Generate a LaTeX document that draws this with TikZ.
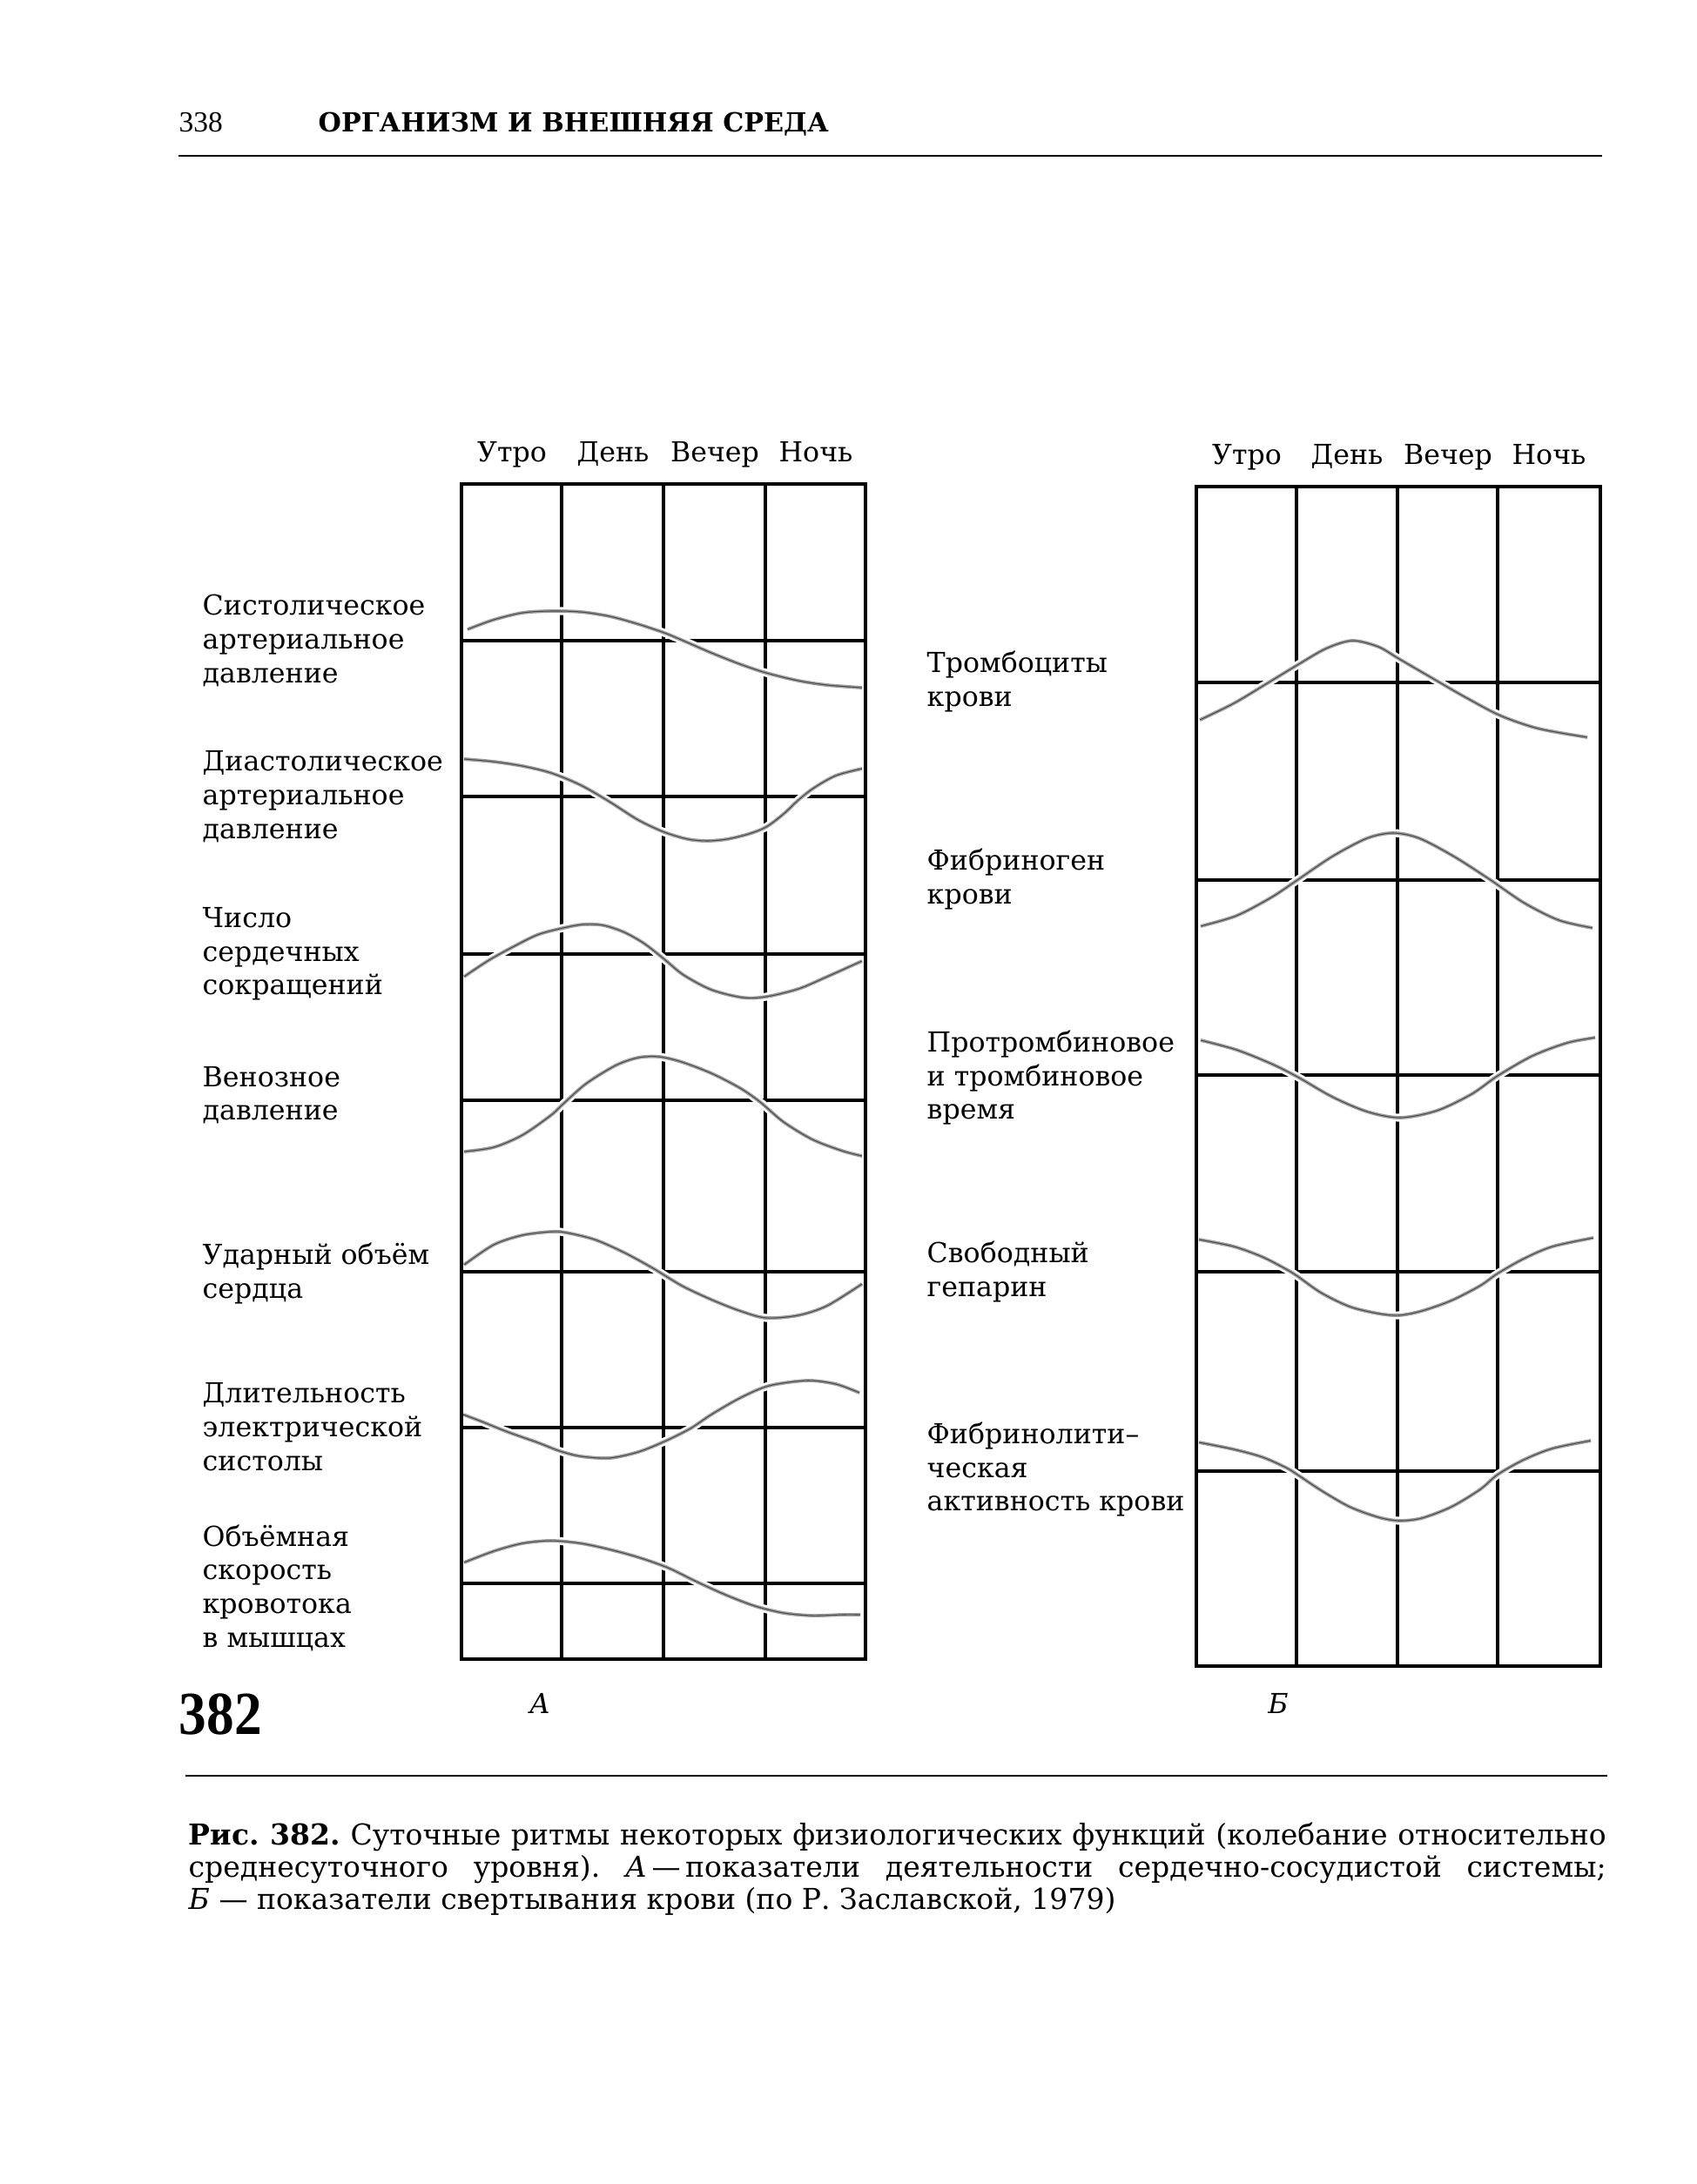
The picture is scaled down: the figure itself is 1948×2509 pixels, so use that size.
\documentclass[tikz,border=0pt]{standalone}
\usepackage{fontspec}
\setmainfont{DejaVu Serif}
\newfontfamily\timesf{Liberation Serif}
\frenchspacing
\newcommand\wavecurve[1]{%
  \draw[halo] plot[smooth] coordinates {#1};
  \draw[crv] plot[smooth] coordinates {#1};
  \draw[crvcore] plot[smooth] coordinates {#1};
}
\begin{document}
\begin{tikzpicture}[x=0.01cm,y=-0.01cm,
  frame/.style={line width=1.3pt},
  gridln/.style={line width=1.05pt},
  halo/.style={white,line width=2.6pt},
  crv/.style={black!38,line width=1.1pt},
  crvcore/.style={black!70,line width=0.3pt},
  lbl/.style={anchor=west,align=left,inner sep=0pt,font=\fontsize{9}{11}\selectfont},
  hd/.style={anchor=base,inner sep=0pt,font=\fontsize{9}{11}\selectfont},
  rulel/.style={line width=0.8pt},
  capf/.style={anchor=base west,inner sep=0pt,font=\fontsize{9.4}{11}\selectfont}
]
\useasboundingbox (0,0) rectangle (1948,2509);
\fill[white] (0,0) rectangle (1948,2509);

% header
\node[anchor=base west,inner sep=0pt,font=\timesf\fontsize{9.5}{11}\selectfont] (pg) at (205,152) {338};
\node[anchor=base west,inner sep=0pt,font=\bfseries\fontsize{8.6}{11}\selectfont] (ttl) at (365,152) {ОРГАНИЗМ И ВНЕШНЯЯ СРЕДА};
\draw[rulel] (205,179) -- (1840,179);

% ---------- panel A ----------
\foreach \x in {645,762,879} \draw[gridln] (\x,556) -- (\x,1906);
\foreach \y in {736,915,1096,1264,1461,1640,1819} \draw[gridln] (530,\y) -- (994,\y);

\wavecurve{(537,723) (567,712) (600,704) (633,702) (667,703) (700,708) (733,717) (763,727) (787,737) (817,750) (850,763) (880,773) (917,782) (950,787) (990,790)}
\wavecurve{(533,872) (567,875) (600,880) (633,888) (667,902) (700,921) (733,942) (763,956) (790,964) (812,966) (835,964) (860,958) (880,950) (900,935) (917,919) (935,905) (960,891) (990,883)}
\wavecurve{(533,1122) (560,1104) (585,1090) (617,1074) (647,1066) (670,1062) (693,1063) (717,1071) (740,1084) (763,1102) (785,1120) (817,1137) (853,1146) (880,1145) (917,1136) (950,1122) (990,1104)}
\wavecurve{(533,1323) (567,1318) (600,1304) (633,1281) (647,1268) (673,1245) (707,1224) (733,1215) (757,1214) (783,1220) (817,1233) (850,1250) (873,1266) (900,1289) (933,1309) (967,1322) (990,1328)}
\wavecurve{(533,1453) (567,1430) (600,1419) (633,1415) (650,1416) (683,1424) (717,1439) (750,1457) (783,1477) (817,1493) (850,1506) (880,1514) (917,1511) (950,1500) (990,1475)}
\wavecurve{(532,1625) (553,1633) (583,1645) (617,1657) (643,1667) (667,1673) (700,1675) (733,1668) (763,1656) (793,1641) (817,1625) (850,1606) (883,1592) (927,1586) (960,1590) (987,1600)}
\wavecurve{(533,1795) (567,1782) (600,1773) (633,1770) (667,1773) (700,1780) (733,1789) (767,1801) (800,1817) (833,1832) (867,1845) (900,1853) (933,1856) (967,1855) (988,1855)}

\draw[frame] (530,556) rectangle (994,1906);

\node[hd] (ah1) at (588,530) {Утро};
\node[hd] (ah2) at (704,530) {День};
\node[hd] (ah3) at (821,530) {Вечер};
\node[hd] (ah4) at (937,530) {Ночь};

\node[lbl] (la1) at (232,736) {Систолическое\\артериальное\\давление};
\node[lbl] (la2) at (232,915) {Диастолическое\\артериальное\\давление};
\node[lbl] (la3) at (232,1096) {Число\\сердечных\\сокращений};
\node[lbl] (la4) at (232,1258) {Венозное\\давление};
\node[lbl] (la5) at (232,1463) {Ударный объём\\сердца};
\node[lbl] (la6) at (232,1639) {Длительность\\электрической\\систолы};
\node[lbl] (la7) at (232,1824) {Объёмная\\скорость\\кровотока\\в мышцах};

% ---------- panel B ----------
\foreach \x in {1489,1605,1720} \draw[gridln] (\x,559) -- (\x,1914);
\foreach \y in {784,1011,1235,1461,1690} \draw[gridln] (1374,\y) -- (1838,\y);

\wavecurve{(1378,827) (1417,808) (1457,784) (1490,764) (1523,745) (1553,736) (1583,743) (1607,757) (1650,782) (1683,801) (1723,822) (1767,837) (1823,847)}
\wavecurve{(1379,1064) (1420,1052) (1460,1031) (1490,1011) (1530,984) (1570,963) (1600,957) (1630,963) (1670,984) (1712,1011) (1750,1037) (1790,1057) (1829,1066)}
\wavecurve{(1379,1195) (1420,1206) (1460,1222) (1490,1237) (1530,1260) (1570,1277) (1608,1284) (1650,1276) (1690,1257) (1720,1236) (1760,1213) (1800,1198) (1832,1192)}
\wavecurve{(1377,1424) (1417,1432) (1450,1444) (1477,1458) (1490,1466) (1517,1485) (1550,1501) (1583,1509) (1607,1511) (1633,1506) (1667,1494) (1700,1477) (1720,1463) (1750,1446) (1783,1432) (1830,1422)}
\wavecurve{(1377,1657) (1417,1665) (1450,1674) (1477,1686) (1490,1694) (1517,1712) (1550,1731) (1583,1743) (1607,1747) (1633,1744) (1667,1731) (1700,1711) (1720,1694) (1750,1677) (1783,1664) (1827,1655)}

\draw[frame] (1374,559) rectangle (1838,1914);

\node[hd] (bh1) at (1432,533) {Утро};
\node[hd] (bh2) at (1547,533) {День};
\node[hd] (bh3) at (1663,533) {Вечер};
\node[hd] (bh4) at (1779,533) {Ночь};

\node[lbl] (lb1) at (1064,783) {Тромбоциты\\крови};
\node[lbl] (lb2) at (1064,1010) {Фибриноген\\крови};
\node[lbl] (lb3) at (1064,1238) {Протромбиновое\\и тромбиновое\\время};
\node[lbl] (lb4) at (1064,1461) {Свободный\\гепарин};
\node[lbl] (lb5) at (1064,1688) {Фибринолити–\\ческая\\активность крови};

% ---------- figure number and panel letters ----------
\node[anchor=base west,inner sep=0pt,font=\timesf\bfseries\fontsize{20}{22}\selectfont] (fnum) at (205,1992) {\scalebox{0.9}[1]{382}};
\node[anchor=base,inner sep=0pt,font=\itshape\fontsize{9}{11}\selectfont] (pa) at (620,1968) {А};
\node[anchor=base,inner sep=0pt,font=\itshape\fontsize{9}{11}\selectfont] (pb) at (1468,1968) {Б};

\draw[rulel] (213,2040) -- (1846,2040);

% ---------- caption ----------
\node[capf] (c1) at (216,2119) {\makebox[16.27cm][s]{\textbf{Рис. 382.} Суточные ритмы некоторых физиологических функций (колебание относительно}};
\node[capf] (c2) at (216,2156) {\makebox[16.27cm][s]{среднесуточного уровня). \textit{А}\,—\,показатели деятельности сердечно-сосудистой системы;}};
\node[capf] (c3) at (216,2193) {\textit{Б} — показатели свертывания крови (по Р. Заславской, 1979)};
\end{tikzpicture}
\end{document}
